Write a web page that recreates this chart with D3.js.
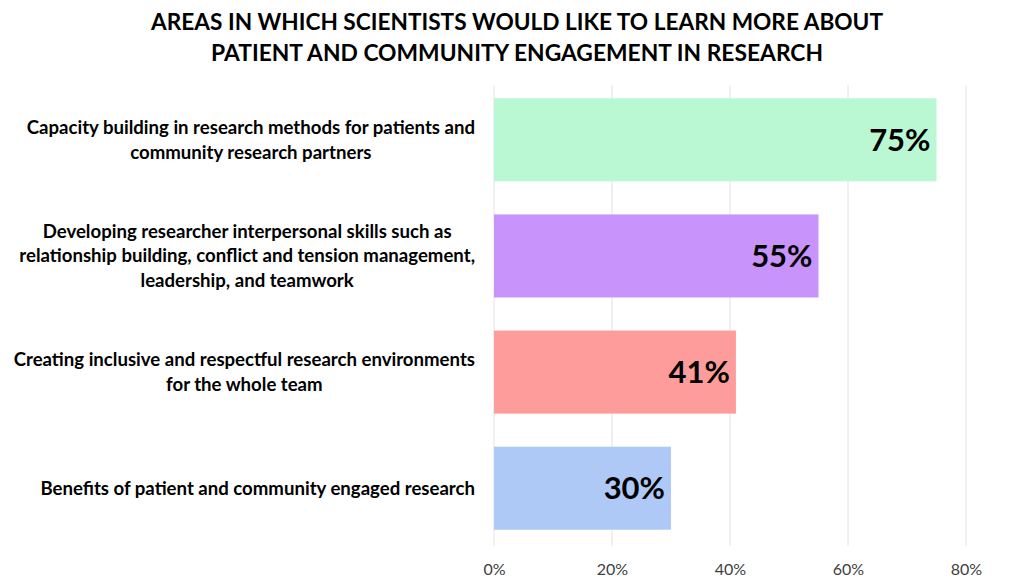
<!DOCTYPE html>
<html><head><meta charset="utf-8">
<script src="https://cdn.jsdelivr.net/npm/d3@7"></script>
<style>body{margin:0;background:#fff}svg{display:block}</style>
</head><body>
<svg id="c" width="1024" height="588"></svg>
<script>
const titleLines = ["AREAS IN WHICH SCIENTISTS WOULD LIKE TO LEARN MORE ABOUT", "PATIENT AND COMMUNITY ENGAGEMENT IN RESEARCH"];
const categories = [
  ["Capacity building in research methods for patients and", "community research partners"],
  ["Developing researcher interpersonal skills such as", "relationship building, conflict and tension management,", "leadership, and teamwork"],
  ["Creating inclusive and respectful research environments", "for the whole team"],
  ["Benefits of patient and community engaged research"]
];
const values = [75, 55, 41, 30];
const colors = ["#b9f8d3", "#c993fc", "#fe9b9b", "#aec9f6"];
const ticks = [0, 20, 40, 60, 80];

const svg = d3.select("#c");
const font = "Lato, 'Open Sans', sans-serif";
const x = d3.scaleLinear().domain([0, 80]).range([494, 966]);
const y = d3.scaleBand().domain(d3.range(categories.length)).range([82, 546]).paddingInner(0.285).paddingOuter(0.14);

// title
svg.selectAll("text.title").data(titleLines).join("text")
  .attr("class", "title")
  .attr("x", 517).attr("y", (d, i) => 30 + i * 31)
  .attr("text-anchor", "middle")
  .style("font-family", font).style("font-weight", 700).style("font-size", "23px").attr("fill", "#000")
  .attr("textLength", (d, i) => i === 0 ? 732 : 612).attr("lengthAdjust", "spacingAndGlyphs")
  .text(d => d);

// gridlines
svg.append("g").selectAll("line").data(ticks).join("line")
  .attr("x1", d => x(d)).attr("x2", d => x(d))
  .attr("y1", 85).attr("y2", 546)
  .attr("stroke", "#e2e2e2").attr("stroke-width", 1);

// bars
svg.append("g").selectAll("rect").data(values).join("rect")
  .attr("x", x(0)).attr("y", (d, i) => y(i))
  .attr("width", d => x(d) - x(0)).attr("height", y.bandwidth())
  .attr("fill", (d, i) => colors[i]);

// value labels
svg.append("g").selectAll("text").data(values).join("text")
  .attr("x", d => x(d) - 6).attr("y", (d, i) => y(i) + y.bandwidth() / 2)
  .attr("dy", "0.36em").attr("text-anchor", "end")
  .style("font-family", font).style("font-weight", 700).style("font-size", "31px").attr("fill", "#000")
  .text(d => d + "%");

// category labels
const labelRight = 475;
categories.forEach((lines, i) => {
  const g = svg.append("g");
  const cy = y(i) + y.bandwidth() / 2;
  const lh = 24.5;
  const t = g.selectAll("text").data(lines).join("text")
    .attr("y", (d, j) => cy + (j - (lines.length - 1) / 2) * lh)
    .attr("dy", "0.35em").attr("text-anchor", "middle")
    .style("font-family", font).style("font-weight", 700).style("font-size", "18.6px").attr("fill", "#000")
    .text(d => d);
  let maxW = 0;
  t.each(function () { maxW = Math.max(maxW, this.getComputedTextLength()); });
  t.attr("x", labelRight - maxW / 2);
});

// x axis labels
const ax = svg.append("g").attr("transform", "translate(0,561)")
  .call(d3.axisBottom(x).tickValues(ticks).tickFormat(d => d + "%").tickSize(0));
ax.select(".domain").remove();
ax.selectAll("text").style("font-family", font).style("font-size", "16px").attr("fill", "#404040");
</script>
</body></html>
